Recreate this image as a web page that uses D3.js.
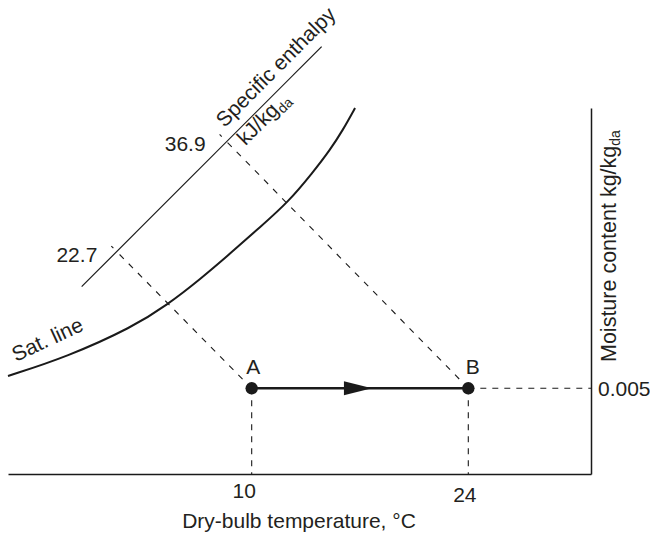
<!DOCTYPE html>
<html><head><meta charset="utf-8">
<script src="https://cdn.jsdelivr.net/npm/d3@7"></script>
<style>
body{margin:0;background:#fff}
svg{display:block}
text{font-family:"Liberation Sans", Arial, Helvetica, sans-serif; fill:#231f20}
</style>
</head><body>
<svg id="chart" width="650" height="533"></svg>
<script>
// ---- data ----
const xTicks = [10, 24];
const yTicks = [0.005];
const stateNames = ["A", "B"];
const stateTemps = [10, 24];
const stateMoist = [0.005, 0.005];
const enthalpyLabels = ["22.7", "36.9"];
const enthalpyMeetT = [1.38, 8.38];
const enthalpyMeetW = [0.01288, 0.01939];
const satT = [-5.75, -1.94, 2.33, 4.53, 6.66, 8.79, 10.54, 12.35, 13.96, 15.06, 15.9, 16.68];
const satW = [0.00572, 0.00683, 0.00858, 0.00986, 0.01135, 0.01300, 0.01440, 0.01585, 0.01760, 0.0189, 0.02007, 0.02135];
const enthScaleT = [-0.99, 14.52];
const enthScaleW = [0.01093, 0.02493];
const xExtent = [-5.75, 31.93];
const yExtent = [0, 0.02135];

// ---- layout ----
const svg = d3.select("#chart");
const x = d3.scaleLinear().domain(xExtent).range([8, 591]);
const y = d3.scaleLinear().domain(yExtent).range([474, 108]);
const ink = "#1a1a1a";
const fs = 21;

// x axis
const gx = svg.append("g").attr("transform", `translate(0,${y(0)})`)
  .call(d3.axisBottom(x).tickValues(xTicks).tickSize(0).tickSizeOuter(0).tickPadding(10).tickFormat(d3.format("d")));
gx.select(".domain").attr("stroke", ink).attr("stroke-width", 1.5);
gx.selectAll(".tick text").attr("font-size", fs).attr("fill", "#231f20")
  .attr("font-family", "Liberation Sans, Arial, sans-serif")
  .attr("dx", (d, i) => i === 0 ? -8 : -4)
  .attr("dy", (d, i) => i === 0 ? "0.68em" : "0.84em");

// right axis
const gy = svg.append("g").attr("transform", `translate(${x(xExtent[1])},0)`)
  .call(d3.axisRight(y).tickValues(yTicks).tickSize(0).tickSizeOuter(0).tickPadding(7).tickFormat(d3.format(".3f")));
gy.select(".domain").attr("stroke", ink).attr("stroke-width", 1.5);
gy.selectAll(".tick text").attr("font-size", fs).attr("fill", "#231f20")
  .attr("font-family", "Liberation Sans, Arial, sans-serif");

// axis titles
svg.append("text").attr("x", 299).attr("y", 528).attr("text-anchor", "middle")
  .attr("font-size", fs).text("Dry-bulb temperature, \u00B0C");
const yt = svg.append("text").attr("transform", `translate(615.5,362) rotate(-90)`)
  .attr("font-size", 21.5);
yt.append("tspan").text("Moisture content kg/kg");
yt.append("tspan").attr("font-size", 14).attr("dy", 4).text("da");

// saturation line
const satData = satT.map((t, i) => [t, satW[i]]);
svg.append("path").datum(satData)
  .attr("d", d3.line().x(d => x(d[0])).y(d => y(d[1])).curve(d3.curveBasis))
  .attr("fill", "none").attr("stroke", ink).attr("stroke-width", 2);
svg.append("text").attr("transform", `translate(${x(satT[0]) + 8},${y(satW[0]) - 14}) rotate(-25)`)
  .attr("font-size", fs).text("Sat. line");

// enthalpy scale line
const e0 = [x(enthScaleT[0]), y(enthScaleW[0])];
const e1 = [x(enthScaleT[1]), y(enthScaleW[1])];
svg.append("line").attr("x1", e0[0]).attr("y1", e0[1]).attr("x2", e1[0]).attr("y2", e1[1])
  .attr("stroke", ink).attr("stroke-width", 1.2);
const ang = Math.atan2(e1[1] - e0[1], e1[0] - e0[0]) * 180 / Math.PI;
const ux = (e1[0] - e0[0]), uy = (e1[1] - e0[1]);
const L = Math.hypot(ux, uy);
const dir = [ux / L, uy / L];
const nrm = [dir[1], -dir[0]]; // points up-left
const fr = 0.628;
const pf = [e0[0] + fr * ux, e0[1] + fr * uy];
svg.append("text")
  .attr("transform", `translate(${pf[0] + nrm[0] * 11},${pf[1] + nrm[1] * 11}) rotate(${ang})`)
  .attr("font-size", fs).text("Specific enthalpy");
const kt = svg.append("text")
  .attr("transform", `translate(${pf[0] - nrm[0] * 16.5 + dir[0] * 2},${pf[1] - nrm[1] * 16.5 + dir[1] * 2}) rotate(${ang})`)
  .attr("font-size", fs);
kt.append("tspan").text("kJ/kg");
kt.append("tspan").attr("font-size", 14).attr("dy", 4).text("da");

// constant enthalpy dashed lines from states to the scale line
stateNames.forEach((n, i) => {
  const sx = x(stateTemps[i]), sy = y(stateMoist[i]);
  const mx = x(enthalpyMeetT[i]), my = y(enthalpyMeetW[i]);
  svg.append("line").attr("x1", sx).attr("y1", sy).attr("x2", mx).attr("y2", my)
    .attr("stroke", ink).attr("stroke-width", 1.1).attr("stroke-dasharray", "6,7");
  const vx = mx - sx, vy = my - sy, vl = Math.hypot(vx, vy);
  const d0 = [vx / vl, vy / vl];
  svg.append("line")
    .attr("x1", mx + d0[0] * 7).attr("y1", my + d0[1] * 7)
    .attr("x2", mx + d0[0] * 10).attr("y2", my + d0[1] * 10)
    .attr("stroke", ink).attr("stroke-width", 1.1);
  svg.append("text").attr("x", mx - 21).attr("y", my + 9).attr("text-anchor", "end")
    .attr("font-size", fs).text(enthalpyLabels[i]);
});

// vertical dashed lines to x axis
stateNames.forEach((n, i) => {
  svg.append("line").attr("x1", x(stateTemps[i])).attr("x2", x(stateTemps[i]))
    .attr("y1", y(stateMoist[i])).attr("y2", y(0))
    .attr("stroke", ink).attr("stroke-width", 1.1).attr("stroke-dasharray", "6,6");
});
// horizontal dashed from B to right axis
svg.append("line").attr("x1", x(stateTemps[1])).attr("x2", x(xExtent[1]))
  .attr("y1", y(stateMoist[1])).attr("y2", y(stateMoist[1]))
  .attr("stroke", ink).attr("stroke-width", 1.1).attr("stroke-dasharray", "6,6");

// process line A -> B
const ax = x(stateTemps[0]), ay = y(stateMoist[0]);
const bx = x(stateTemps[1]), by = y(stateMoist[1]);
svg.append("line").attr("x1", ax).attr("y1", ay).attr("x2", bx).attr("y2", by)
  .attr("stroke", ink).attr("stroke-width", 2.5);
const tipX = ax + 0.555 * (bx - ax);
svg.append("path")
  .attr("d", `M${tipX},${ay} L${tipX - 28},${ay - 7} L${tipX - 28},${ay + 7} Z`)
  .attr("fill", ink);

// state points
stateNames.forEach((n, i) => {
  svg.append("circle").attr("cx", x(stateTemps[i])).attr("cy", y(stateMoist[i])).attr("r", 6.2).attr("fill", ink);
  svg.append("text").attr("x", x(stateTemps[i]) + (i === 0 ? 1.5 : 4.5)).attr("y", y(stateMoist[i]) - 14)
    .attr("text-anchor", "middle").attr("font-size", fs).text(n);
});
</script>
</body></html>
